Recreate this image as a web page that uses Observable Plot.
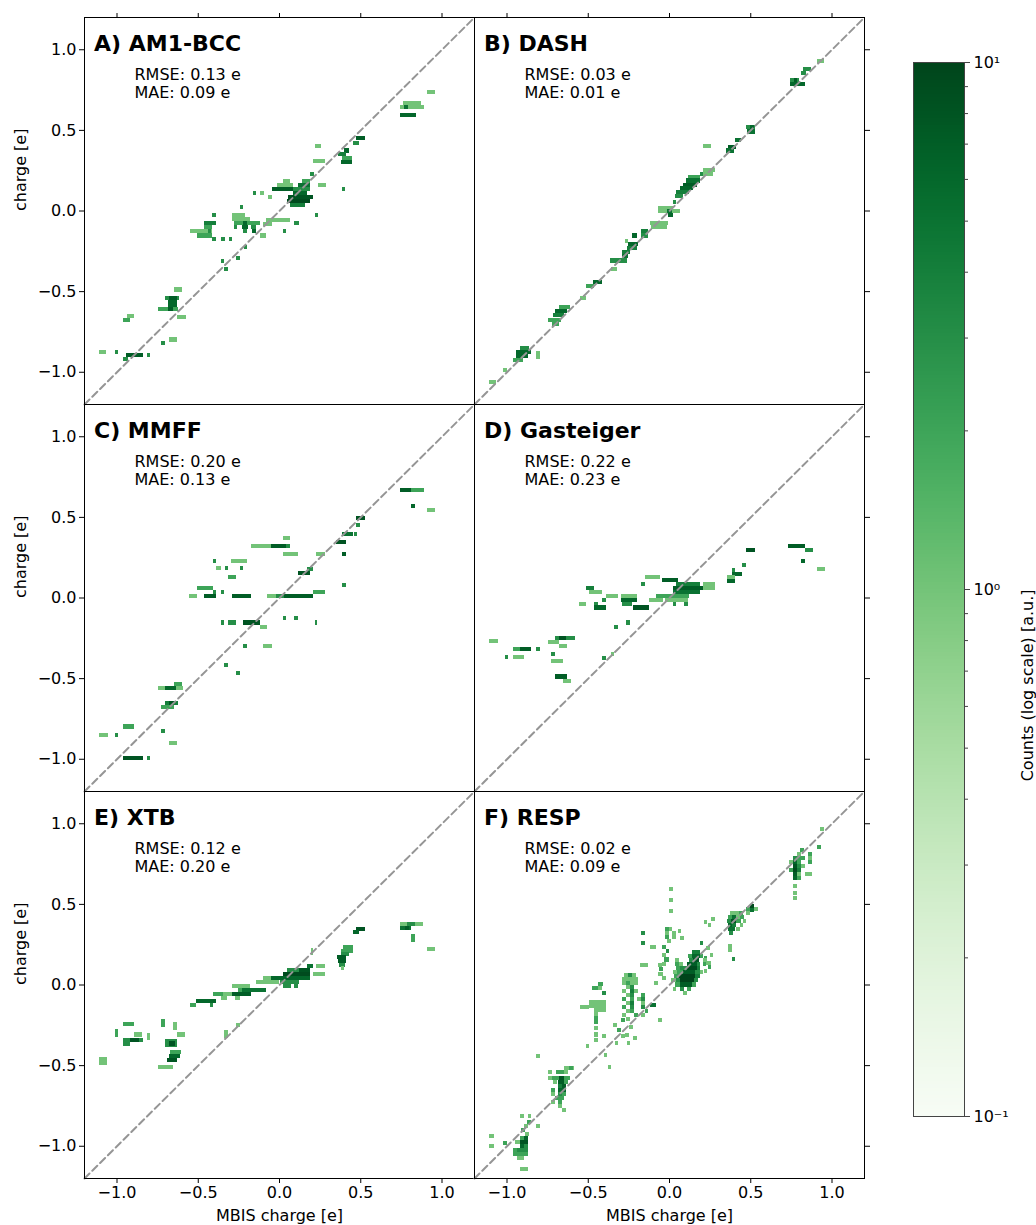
<!DOCTYPE html>
<html>
<head>
<meta charset="utf-8">
<script src="https://cdn.jsdelivr.net/npm/d3@7"></script>
<script src="https://cdn.jsdelivr.net/npm/@observablehq/plot@0.6"></script>
<style>
  body { margin: 0; background: #fff; }
  #chart { position: relative; width: 1036px; height: 1225px; background: #fff; font-family: "DejaVu Sans", sans-serif; }
  #chart svg { position: absolute; }
</style>
</head>
<body>
<div id="chart"></div>
<script>
// ---- data -----------------------------------------------------------------
// Histogram bin height (e) for single-row runs.
const BIN = 0.025;

const methods = ["A) AM1-BCC", "B) DASH", "C) MMFF", "D) Gasteiger", "E) XTB", "F) RESP"];
const rmse = [0.13, 0.03, 0.20, 0.22, 0.12, 0.02];
const mae = [0.09, 0.01, 0.13, 0.23, 0.20, 0.09];

const xTicks = [-1, -0.5, 0, 0.5, 1];
const yTicks = [-1, -0.5, 0, 0.5, 1];
const diagonal = [-1.2, 1.2];

// Occupied histogram cells. Runs: [x1, x2, y, count]; blocks: [x1, x2, y1, y2, count].
const am1bcc = [
  [0.91,0.96,0.735,1],[0.76,0.875,0.667,1],[0.745,0.89,0.642,1],[0.77,0.795,0.642,5],[0.745,0.84,0.592,6],
  [0.475,0.53,0.447,7],[0.455,0.49,0.42,3],[0.22,0.26,0.40,1],[0.40,0.43,0.372,6],[0.36,0.41,0.35,4],
  [0.39,0.45,0.328,2],[0.38,0.45,0.303,6],[0.21,0.28,0.305,1],[0.19,0.215,0.227,3],[0.24,0.29,0.16,1],
  [0.385,0.405,0.135,3],[0.22,0.24,-0.03,3],
  [0.025,0.065,0.185,1],[0.14,0.19,0.185,2],[-0.015,0.085,0.16,1],[0.115,0.19,0.16,5],[-0.045,0.085,0.135,7],
  [0.085,0.19,0.135,3],[-0.16,-0.14,0.11,3],[-0.115,-0.095,0.11,1],[0.085,0.17,0.11,6],[-0.07,-0.045,0.085,1],
  [0.055,0.21,0.085,8],[0.05,0.19,0.06,9],[0.07,0.16,0.035,4],[0.095,0.12,-0.08,3],[0.025,0.045,-0.13,3],
  [-0.08,0.07,-0.058,1],[-0.10,-0.045,-0.085,1],
  [-0.24,-0.22,0.02,3],[-0.29,-0.21,-0.03,1],[-0.29,-0.18,-0.055,1],[-0.28,-0.12,-0.08,2],[-0.22,-0.195,-0.08,6],
  [-0.28,-0.26,-0.105,3],[-0.23,-0.19,-0.105,6],[-0.17,-0.14,-0.105,3],[-0.22,-0.20,-0.13,3],[-0.165,-0.14,-0.13,6],
  [-0.12,-0.08,-0.155,1],
  [-0.41,-0.385,-0.03,3],[-0.46,-0.385,-0.08,4],[-0.46,-0.415,-0.105,2],[-0.55,-0.415,-0.13,1],[-0.44,-0.42,-0.13,3],
  [-0.505,-0.415,-0.155,2],[-0.41,-0.385,-0.175,3],[-0.355,-0.335,-0.175,3],[-0.31,-0.29,-0.175,3],
  [-0.215,-0.195,-0.225,3],[-0.265,-0.24,-0.295,3],[-0.36,-0.34,-0.315,3],[-0.34,-0.315,-0.365,3],
  [-0.645,-0.60,-0.49,1],[-0.70,-0.615,-0.54,3],[-0.675,-0.63,-0.54,7],[-0.685,-0.63,-0.565,6],[-0.685,-0.63,-0.59,6],
  [-0.745,-0.62,-0.612,2],[-0.685,-0.65,-0.612,7],[-0.625,-0.575,-0.658,1],
  [-0.935,-0.89,-0.655,1],[-0.96,-0.92,-0.68,2],[-0.725,-0.70,-0.82,3],[-0.675,-0.625,-0.80,1],
  [-1.105,-1.065,-0.875,1],[-1.01,-0.99,-0.875,3],[-0.94,-0.84,-0.895,7],[-0.815,-0.795,-0.895,3],[-0.96,-0.93,-0.92,3]
];

const dash = [
  [0.91,0.955,0.93,1],[0.825,0.875,0.875,3],[0.815,0.84,0.85,3],[0.745,0.80,0.807,3],[0.77,0.79,0.807,7],
  [0.745,0.835,0.787,6],[0.475,0.53,0.515,3],[0.50,0.525,0.515,6],[0.48,0.53,0.49,5],[0.405,0.445,0.44,5],
  [0.36,0.41,0.395,7],[0.35,0.40,0.372,5],[0.21,0.26,0.40,1],[0.21,0.28,0.25,1],[0.19,0.27,0.228,1],
  [0.19,0.21,0.228,3],[0.115,0.19,0.21,2],[0.105,0.19,0.186,5],[0.085,0.17,0.161,7],[0.065,0.15,0.137,6],
  [0.045,0.125,0.112,4],[0.035,0.085,0.087,3],[0.025,0.045,0.05,3],[-0.07,0.025,0.015,1],[-0.07,0.065,-0.006,1],
  [-0.01,0.02,-0.006,5],[-0.005,0.025,-0.03,6],[-0.12,-0.005,-0.08,1],[-0.11,-0.01,-0.105,1],[-0.17,-0.13,-0.13,4],
  [-0.17,-0.13,-0.155,3],[-0.225,-0.20,-0.155,6],[-0.27,-0.25,-0.19,1],[-0.25,-0.19,-0.21,6],[-0.26,-0.20,-0.235,4],
  [-0.29,-0.24,-0.26,4],[-0.29,-0.25,-0.285,5],[-0.365,-0.26,-0.31,3],[-0.36,-0.32,-0.36,1],[-0.47,-0.415,-0.445,6],
  [-0.51,-0.46,-0.47,2],[-0.55,-0.51,-0.545,1],[-0.675,-0.61,-0.60,2],[-0.70,-0.63,-0.625,6],[-0.715,-0.645,-0.65,4],
  [-0.745,-0.665,-0.68,2],[-0.72,-0.68,-0.705,2],[-0.92,-0.86,-0.85,3],[-0.94,-0.85,-0.875,6],[-0.94,-0.87,-0.90,6],
  [-0.96,-0.90,-0.925,2],[-0.82,-0.795,-0.92,-0.87,1],[-1.105,-1.065,-1.065,1],[-1.02,-1.0,-0.99,1]
];

const mmff = [
  [0.745,0.815,0.665,7],[0.815,0.89,0.665,2],[0.815,0.835,0.565,6],[0.91,0.96,0.54,1],[0.475,0.53,0.495,8],
  [0.475,0.50,0.45,3],[0.385,0.455,0.395,5],[0.46,0.48,0.395,3],[0.35,0.41,0.345,8],[0.385,0.41,0.27,7],
  [0.385,0.41,0.08,3],[0.23,0.285,0.27,1],[0.17,0.21,0.175,3],[0.115,0.19,0.15,8],[0.21,0.285,0.035,2],
  [0.025,0.07,0.37,1],[-0.17,-0.05,0.32,1],[-0.05,0.045,0.32,7],[0.045,0.07,0.32,3],[0.025,0.115,0.27,1],
  [-0.405,-0.385,0.225,3],[-0.295,-0.195,0.225,1],[-0.385,-0.36,0.18,1],[-0.335,-0.315,0.18,3],[-0.24,-0.22,0.18,3],
  [-0.315,-0.265,0.13,2],[-0.505,-0.405,0.058,2],[-0.405,-0.385,0.035,3],[-0.36,-0.34,0.035,3],
  [-0.555,-0.505,0.01,1],[-0.46,-0.385,0.01,7],[-0.29,-0.17,0.01,7],[-0.075,-0.02,0.01,1],[-0.02,0.03,0.01,3],
  [0.03,0.21,0.01,7],[0.025,0.045,-0.13,3],[0.095,0.115,-0.13,3],[-0.36,-0.34,-0.155,3],[-0.315,-0.265,-0.155,3],
  [-0.22,-0.12,-0.155,8],[0.22,0.235,-0.155,3],[-0.12,-0.075,-0.18,1],[-0.22,-0.195,-0.30,3],[-0.10,-0.045,-0.30,1],
  [-0.34,-0.315,-0.42,3],[-0.265,-0.24,-0.47,3],[-0.645,-0.60,-0.535,2],[-0.745,-0.70,-0.56,1],[-0.70,-0.635,-0.56,6],
  [-0.635,-0.59,-0.56,1],[-0.70,-0.62,-0.655,4],[-0.675,-0.645,-0.655,8],[-0.725,-0.645,-0.68,2],[-0.96,-0.89,-0.80,2],
  [-1.105,-1.055,-0.85,1],[-1.01,-0.99,-0.85,3],[-0.725,-0.70,-0.83,3],[-0.675,-0.625,-0.90,1],[-0.96,-0.84,-0.995,8],
  [-0.815,-0.795,-0.995,3]
];

const gasteiger = [
  [0.735,0.835,0.32,7],[0.835,0.885,0.295,3],[0.815,0.835,0.225,6],[0.91,0.96,0.175,1],[0.475,0.53,0.295,8],
  [0.45,0.475,0.20,3],[0.385,0.405,0.17,3],[0.385,0.45,0.145,6],[0.355,0.405,0.125,1],[0.355,0.405,0.10,6],
  [-0.15,-0.055,0.13,1],[-0.045,0.055,0.107,7],[0.045,0.19,0.083,4],[0.21,0.285,0.083,1],[-0.17,-0.15,0.083,3],
  [0.025,0.21,0.058,7],[0.21,0.285,0.058,1],[-0.51,-0.46,0.058,4],[0.025,0.19,0.033,5],[-0.49,-0.41,0.033,1],
  [-0.08,0.125,0.008,2],[-0.385,-0.315,0.008,1],[-0.295,-0.20,0.008,1],[-0.025,0.115,-0.017,1],[-0.41,-0.385,-0.017,3],
  [-0.295,-0.20,-0.017,6],[-0.125,-0.035,-0.017,1],[0.025,0.045,-0.04,3],[0.095,0.115,-0.04,3],[-0.46,-0.435,-0.04,3],
  [-0.555,-0.51,-0.04,1],[-0.29,-0.23,-0.04,3],[-0.46,-0.385,-0.062,6],[-0.22,-0.125,-0.062,8],[-0.265,-0.24,-0.155,3],
  [-0.34,-0.315,-0.18,3],[-0.36,-0.34,-0.35,1],[-0.41,-0.385,-0.375,3],[-0.70,-0.58,-0.25,3],[-0.675,-0.635,-0.25,8],
  [-0.745,-0.675,-0.275,1],[-0.675,-0.63,-0.30,1],[-0.725,-0.70,-0.35,3],[-0.725,-0.655,-0.395,1],[-0.70,-0.63,-0.49,7],
  [-0.655,-0.605,-0.515,1],[-1.105,-1.055,-0.27,1],[-0.96,-0.92,-0.32,2],[-0.92,-0.85,-0.32,7],[-0.82,-0.795,-0.32,3],
  [-1.01,-0.99,-0.37,3],[-0.96,-0.89,-0.37,1]
];

const xtb = [
  [0.745,0.79,0.378,1],[0.79,0.835,0.378,3],[0.835,0.885,0.378,1],[0.745,0.815,0.353,5],[0.775,0.80,0.353,7],
  [0.815,0.835,0.265,0.315,2],[0.91,0.96,0.22,1],[0.475,0.53,0.347,8],[0.455,0.495,0.325,6],[0.395,0.455,0.23,2],
  [0.38,0.455,0.21,2],[0.38,0.43,0.19,3],[0.355,0.415,0.17,7],[0.36,0.41,0.145,7],[0.37,0.405,0.12,3],
  [0.38,0.40,0.10,1],[0.195,0.21,0.18,0.225,1],[0.17,0.21,0.113,5],[0.23,0.285,0.113,1],[0.05,0.12,0.089,3],
  [0.12,0.19,0.089,8],[0.025,0.19,0.064,9],[0.21,0.285,0.064,1],[0.005,0.19,0.04,6],[-0.10,-0.05,0.04,1],
  [-0.05,0.005,0.04,6],[0.005,0.125,0.015,3],[-0.14,0.0,0.015,1],[0.025,0.075,-0.01,3],[0.095,0.115,-0.01,3],
  [-0.29,-0.18,-0.01,1],[-0.25,-0.225,-0.035,2],[-0.225,-0.08,-0.035,5],[-0.405,-0.345,-0.06,2],[-0.345,-0.29,-0.06,1],
  [-0.29,-0.17,-0.06,7],[-0.36,-0.32,-0.085,1],[-0.27,-0.24,-0.085,1],[-0.51,-0.385,-0.105,6],[-0.55,-0.51,-0.13,2],
  [-0.425,-0.405,-0.13,3],[-0.96,-0.89,-0.245,2],[-0.725,-0.70,-0.265,-0.215,2],[-0.655,-0.625,-0.285,-0.235,1],
  [-1.01,-0.99,-0.325,-0.275,2],[-0.89,-0.845,-0.31,1],[-0.63,-0.58,-0.31,1],[-0.815,-0.795,-0.345,-0.30,1],
  [-0.96,-0.84,-0.345,3],[-0.92,-0.86,-0.345,8],[-0.96,-0.92,-0.37,3],[-0.70,-0.63,-0.39,-0.34,3],
  [-0.68,-0.64,-0.38,-0.35,8],[-0.67,-0.605,-0.42,2],[-0.68,-0.61,-0.445,6],[-0.69,-0.63,-0.47,8],
  [-0.745,-0.655,-0.51,1],[-1.105,-1.06,-0.50,-0.45,1],[-0.34,-0.315,-0.33,-0.28,1],[-0.265,-0.24,-0.25,1]
];

const resp = [
  // upper right group
  [0.93,0.955,0.967,1],[0.91,0.935,0.853,2],[0.805,0.83,0.832,2],[0.855,0.88,0.81,2],[0.855,0.88,0.785,1],
  [0.785,0.81,0.81,1],[0.76,0.785,0.785,3],[0.785,0.835,0.785,2],[0.74,0.76,0.76,1],[0.76,0.785,0.76,6],
  [0.785,0.81,0.76,2],[0.855,0.88,0.76,2],[0.76,0.785,0.735,8],[0.785,0.81,0.735,3],[0.81,0.835,0.735,1],
  [0.74,0.76,0.71,2],[0.76,0.785,0.71,9],[0.785,0.81,0.71,4],[0.76,0.785,0.685,7],[0.785,0.81,0.685,1],
  [0.835,0.88,0.685,1],[0.76,0.785,0.66,6],[0.785,0.81,0.66,2],[0.76,0.785,0.61,1],[0.76,0.785,0.565,1],
  [0.76,0.785,0.535,1],
  // around +0.5 and +0.4
  [0.475,0.50,0.47,2],[0.50,0.525,0.485,9],[0.475,0.50,0.445,1],[0.50,0.525,0.46,5],[0.525,0.55,0.47,1],
  [0.375,0.43,0.445,1],[0.43,0.455,0.445,2],[0.36,0.385,0.42,2],[0.385,0.41,0.42,5],[0.41,0.435,0.42,1],
  [0.435,0.46,0.42,2],[0.355,0.38,0.395,3],[0.38,0.41,0.395,8],[0.41,0.44,0.395,2],[0.455,0.475,0.395,1],
  [0.36,0.385,0.37,6],[0.385,0.41,0.37,4],[0.435,0.455,0.37,1],[0.365,0.405,0.345,5],[0.415,0.435,0.345,1],
  [0.37,0.395,0.32,3],[0.365,0.385,0.24,1],[0.365,0.385,0.215,1],[0.385,0.405,0.16,3],
  [0.215,0.235,0.385,1],[0.26,0.28,0.405,1],[0.24,0.26,0.37,1],[0.19,0.21,0.255,3],[0.23,0.25,0.225,1],
  [0.215,0.235,0.163,2],[0.25,0.27,0.183,1],[0.215,0.26,0.135,1],[0.24,0.26,0.11,2],[0.215,0.235,0.085,1],
  // main group near +0.1
  [0.14,0.19,0.20,4],[0.115,0.14,0.175,2],[0.14,0.19,0.175,6],[0.19,0.21,0.175,2],
  [0.035,0.06,0.15,1],[0.12,0.145,0.15,3],[0.145,0.185,0.15,8],[0.21,0.235,0.15,1],
  [0.035,0.06,0.125,2],[0.06,0.085,0.125,1],[0.11,0.175,0.125,7],[0.175,0.19,0.125,3],[0.21,0.23,0.125,2],
  [0.045,0.07,0.10,2],[0.07,0.11,0.10,3],[0.11,0.17,0.10,9],[0.17,0.19,0.10,4],
  [0.025,0.05,0.075,1],[0.05,0.085,0.075,2],[0.085,0.16,0.075,7],[0.16,0.19,0.075,3],[0.19,0.21,0.075,1],
  [0.03,0.06,0.05,2],[0.06,0.16,0.05,10],[0.16,0.19,0.05,4],
  [0.015,0.04,0.025,1],[0.04,0.07,0.025,3],[0.07,0.155,0.025,10],[0.155,0.18,0.025,3],
  [0.035,0.065,0.0,2],[0.065,0.14,0.0,7],[0.14,0.165,0.0,2],
  [0.025,0.045,-0.025,1],[0.065,0.09,-0.025,3],[0.11,0.135,-0.025,2],[0.085,0.11,-0.05,1],
  // columns above zero
  [0.0,0.025,0.59,1],[0.0,0.025,0.525,1],[0.0,0.025,0.455,1],
  [-0.025,0.0,0.345,2],[0.0,0.02,0.345,1],[0.02,0.045,0.32,1],[-0.025,0.0,0.32,1],[-0.025,0.0,0.295,2],
  [0.02,0.045,0.295,1],[-0.015,0.01,0.27,1],[0.055,0.075,0.33,1],[0.07,0.095,0.29,1],
  [-0.045,-0.02,0.23,2],[-0.02,0.0,0.205,3],[-0.045,-0.02,0.18,1],[-0.03,0.0,0.155,2],[-0.045,-0.02,0.13,1],
  [-0.12,-0.08,0.23,1],[-0.17,-0.15,0.32,3],[-0.17,-0.15,0.26,3],
  [-0.07,-0.045,0.12,1],[-0.06,-0.035,0.095,2],[-0.065,-0.04,0.065,1],[-0.045,-0.02,0.04,1],[-0.09,-0.065,0.012,1],
  [-0.18,-0.13,0.12,1],
  // group near -0.25
  [-0.28,-0.255,0.06,1],[-0.255,-0.23,0.06,3],[-0.23,-0.205,0.06,1],[-0.29,-0.19,0.035,1],
  [-0.29,-0.265,0.01,1],[-0.265,-0.24,0.01,2],[-0.24,-0.215,0.01,1],[-0.215,-0.19,0.01,1],
  [-0.265,-0.24,-0.015,1],[-0.24,-0.215,-0.015,3],
  [-0.29,-0.265,-0.04,1],[-0.24,-0.215,-0.04,4],[-0.215,-0.19,-0.04,1],
  [-0.265,-0.24,-0.065,1],[-0.24,-0.215,-0.065,3],[-0.17,-0.15,-0.065,2],
  [-0.29,-0.265,-0.09,2],[-0.24,-0.215,-0.09,2],[-0.195,-0.17,-0.09,1],[-0.17,-0.145,-0.09,3],
  [-0.265,-0.24,-0.115,1],[-0.24,-0.215,-0.115,4],[-0.17,-0.15,-0.115,1],[-0.12,-0.08,-0.125,5],
  [-0.29,-0.265,-0.14,2],[-0.24,-0.215,-0.14,3],[-0.17,-0.145,-0.14,3],
  [-0.265,-0.24,-0.165,1],[-0.24,-0.215,-0.165,2],[-0.15,-0.13,-0.165,2],
  [-0.29,-0.265,-0.19,1],[-0.215,-0.19,-0.19,2],[-0.17,-0.145,-0.19,1],
  [-0.265,-0.24,-0.215,1],[-0.07,-0.045,-0.22,1],
  [-0.345,-0.32,-0.25,1],[-0.32,-0.295,-0.285,2],[-0.295,-0.27,-0.22,2],[-0.27,-0.245,-0.315,1],
  [-0.245,-0.22,-0.265,1],[-0.22,-0.20,-0.33,1],[-0.335,-0.315,-0.36,1],[-0.26,-0.24,-0.36,1],[-0.295,-0.27,-0.32,1],
  // group near -0.45
  [-0.435,-0.405,0.005,2],[-0.475,-0.435,-0.02,2],[-0.435,-0.41,-0.02,1],[-0.41,-0.385,-0.055,3],
  [-0.49,-0.385,-0.11,1],[-0.49,-0.385,-0.135,1],[-0.55,-0.49,-0.14,1],[-0.46,-0.385,-0.16,1],
  [-0.46,-0.435,-0.185,1],[-0.46,-0.435,-0.21,2],[-0.46,-0.435,-0.235,2],[-0.46,-0.435,-0.27,1],
  [-0.46,-0.435,-0.31,1],[-0.46,-0.435,-0.345,1],[-0.51,-0.49,-0.38,1],[-0.41,-0.39,-0.32,1],
  [-0.40,-0.38,-0.44,1],[-0.375,-0.355,-0.51,1],[-0.82,-0.795,-0.445,1],
  // group near -0.65
  [-0.645,-0.585,-0.515,1],[-0.615,-0.59,-0.515,2],
  [-0.745,-0.72,-0.545,1],[-0.695,-0.645,-0.545,2],[-0.645,-0.62,-0.545,1],
  [-0.745,-0.72,-0.58,1],[-0.72,-0.68,-0.58,2],[-0.68,-0.645,-0.58,8],[-0.645,-0.61,-0.58,2],
  [-0.715,-0.69,-0.605,1],[-0.685,-0.645,-0.605,7],[-0.645,-0.62,-0.605,2],
  [-0.685,-0.66,-0.63,4],[-0.66,-0.635,-0.63,7],[-0.725,-0.70,-0.655,2],[-0.685,-0.635,-0.655,6],
  [-0.725,-0.70,-0.68,1],[-0.685,-0.66,-0.68,3],[-0.66,-0.635,-0.68,2],[-0.70,-0.645,-0.705,2],
  [-0.725,-0.70,-0.73,1],[-0.685,-0.66,-0.73,2],[-0.685,-0.66,-0.755,1],[-0.66,-0.635,-0.78,1],
  // group near -0.9
  [-0.92,-0.895,-0.815,1],[-0.87,-0.85,-0.815,1],[-0.875,-0.85,-0.85,2],[-0.82,-0.795,-0.875,1],
  [-0.895,-0.87,-0.875,1],[-0.91,-0.885,-0.9,2],[-0.885,-0.86,-0.925,1],[-0.92,-0.895,-0.95,2],
  [-0.895,-0.87,-0.95,6],[-0.92,-0.87,-0.975,8],[-0.945,-0.92,-0.975,1],[-0.92,-0.895,-1.0,6],
  [-0.895,-0.87,-1.0,3],[-0.96,-0.935,-1.025,2],[-0.935,-0.87,-1.025,3],[-0.96,-0.87,-1.05,2],
  [-0.935,-0.895,-1.075,1],[-0.92,-0.87,-1.145,1],[-1.105,-1.08,-0.94,1],[-1.105,-1.08,-1.0,1],[-1.02,-1.0,-0.985,2]
];

const panelCells = [am1bcc, dash, mmff, gasteiger, xtb, resp];

// Colour bar: log-scaled counts.
const countDomain = [0.1, 10];
const cbarTicks = [0.1, 1, 10];
const cbarTickLabels = ["10\u207B\u00B9", "10\u2070", "10\u00B9"];
const cbarMinor = [0.2, 0.3, 0.4, 0.5, 0.6, 0.7, 0.8, 0.9, 2, 3, 4, 5, 6, 7, 8, 9];

// ---- drawing --------------------------------------------------------------
const chart = document.getElementById("chart");
const fmt = d3.format(".1f");
const font = "'DejaVu Sans', sans-serif";
const colorSpec = {type: "log", domain: countDomain, scheme: "greens", clamp: true};

const toRect = d => d.length === 5
  ? {x1: d[0], x2: d[1], y1: d[2], y2: d[3], n: d[4]}
  : {x1: d[0], x2: d[1], y1: d[2] - BIN / 2, y2: d[2] + BIN / 2, n: d[3]};

const W = 390, H = 387;
const colX = [84, 474];
const rowY = [17, 404, 791];
const M = {top: 30, right: 60, bottom: 60, left: 90};

function place(svg, left, top) {
  svg.style.left = left + "px";
  svg.style.top = top + "px";
  chart.appendChild(svg);
}

methods.forEach((name, i) => {
  const col = i % 2, row = Math.floor(i / 2);
  const marks = [
    Plot.rect(panelCells[i].map(toRect), {
      x1: "x1", x2: "x2", y1: "y1", y2: "y2", fill: "n", shapeRendering: "crispEdges"
    }),
    Plot.line(diagonal, {x: d => d, y: d => d, stroke: "#959595", strokeWidth: 2, strokeDasharray: "7,4"}),
    Plot.frame({stroke: "#000", strokeWidth: 1}),
    Plot.text([name], {text: d => d, frameAnchor: "top-left", dx: 9.5, dy: 33.5, lineAnchor: "bottom",
      textAnchor: "start", fontWeight: "bold", fontSize: 22}),
    Plot.text([`RMSE: ${rmse[i].toFixed(2)} e`], {text: d => d, frameAnchor: "top-left", dx: 50, dy: 62.5,
      lineAnchor: "bottom", textAnchor: "start", fontSize: 16}),
    Plot.text([`MAE: ${mae[i].toFixed(2)} e`], {text: d => d, frameAnchor: "top-left", dx: 50, dy: 80.5,
      lineAnchor: "bottom", textAnchor: "start", fontSize: 16})
  ];
  if (row === 0) marks.push(Plot.axisX({anchor: "top", ticks: xTicks, tickSize: 5, tickFormat: () => "", label: null}));
  if (row === 2) {
    marks.push(Plot.axisX({anchor: "bottom", ticks: xTicks, tickSize: 5, tickPadding: 3, tickFormat: fmt, label: null}));
    marks.push(Plot.text(["MBIS charge [e]"], {text: d => d, frameAnchor: "bottom", dy: 37, lineAnchor: "middle", fontSize: 16}));
  }
  if (col === 0) {
    marks.push(Plot.axisY({anchor: "left", ticks: yTicks, tickSize: 5, tickPadding: 3, tickFormat: fmt, label: null}));
    marks.push(Plot.text(["charge [e]"], {text: d => d, frameAnchor: "left", dx: -64, rotate: -90, lineAnchor: "middle", fontSize: 16}));
  } else {
    marks.push(Plot.axisY({anchor: "right", ticks: yTicks, tickSize: 5, tickFormat: () => "", label: null}));
  }
  const svg = Plot.plot({
    width: W + M.left + M.right,
    height: H + M.top + M.bottom,
    marginTop: M.top, marginRight: M.right, marginBottom: M.bottom, marginLeft: M.left,
    style: {background: "transparent", overflow: "visible", fontFamily: font, fontSize: "16px", color: "#000"},
    x: {domain: [-1.2, 1.2], axis: null, label: null},
    y: {domain: [-1.2, 1.2], axis: null, label: null},
    color: colorSpec,
    marks
  });
  place(svg, colX[col] - M.left, rowY[row] - M.top);
});

// Vertical colour bar for the log count scale.
const rampStops = d3.range(301).map(k => 10 ** (-1 + k / 150));
const CB = {left: 913, top: 62, width: 51, height: 1054};
const cbM = {top: 20, right: 90, bottom: 20, left: 10};
const cbar = Plot.plot({
  width: CB.width + cbM.left + cbM.right,
  height: CB.height + cbM.top + cbM.bottom,
  marginTop: cbM.top, marginRight: cbM.right, marginBottom: cbM.bottom, marginLeft: cbM.left,
  style: {background: "transparent", overflow: "visible", fontFamily: font, fontSize: "16px", color: "#000"},
  x: {domain: [0, 1], axis: null},
  y: {type: "log", domain: countDomain, axis: null},
  color: colorSpec,
  marks: [
    Plot.rect(d3.pairs(rampStops), {x1: 0, x2: 1, y1: d => d[0], y2: d => d[1], fill: d => d[0], shapeRendering: "crispEdges"}),
    Plot.frame({stroke: "#444", strokeWidth: 1}),
    Plot.axisY({anchor: "right", ticks: cbarMinor, tickSize: 3, tickFormat: () => "", stroke: "#444", label: null}),
    Plot.axisY({anchor: "right", ticks: cbarTicks, tickSize: 5, tickPadding: 4, stroke: "#444",
      tickFormat: d => cbarTickLabels[cbarTicks.indexOf(d)], label: null}),
    Plot.text(["Counts (log scale) [a.u.]"], {text: d => d, frameAnchor: "right", dx: 63, rotate: -90, lineAnchor: "middle", fontSize: 16})
  ]
});
place(cbar, CB.left - cbM.left, CB.top - cbM.top);
</script>
</body>
</html>
